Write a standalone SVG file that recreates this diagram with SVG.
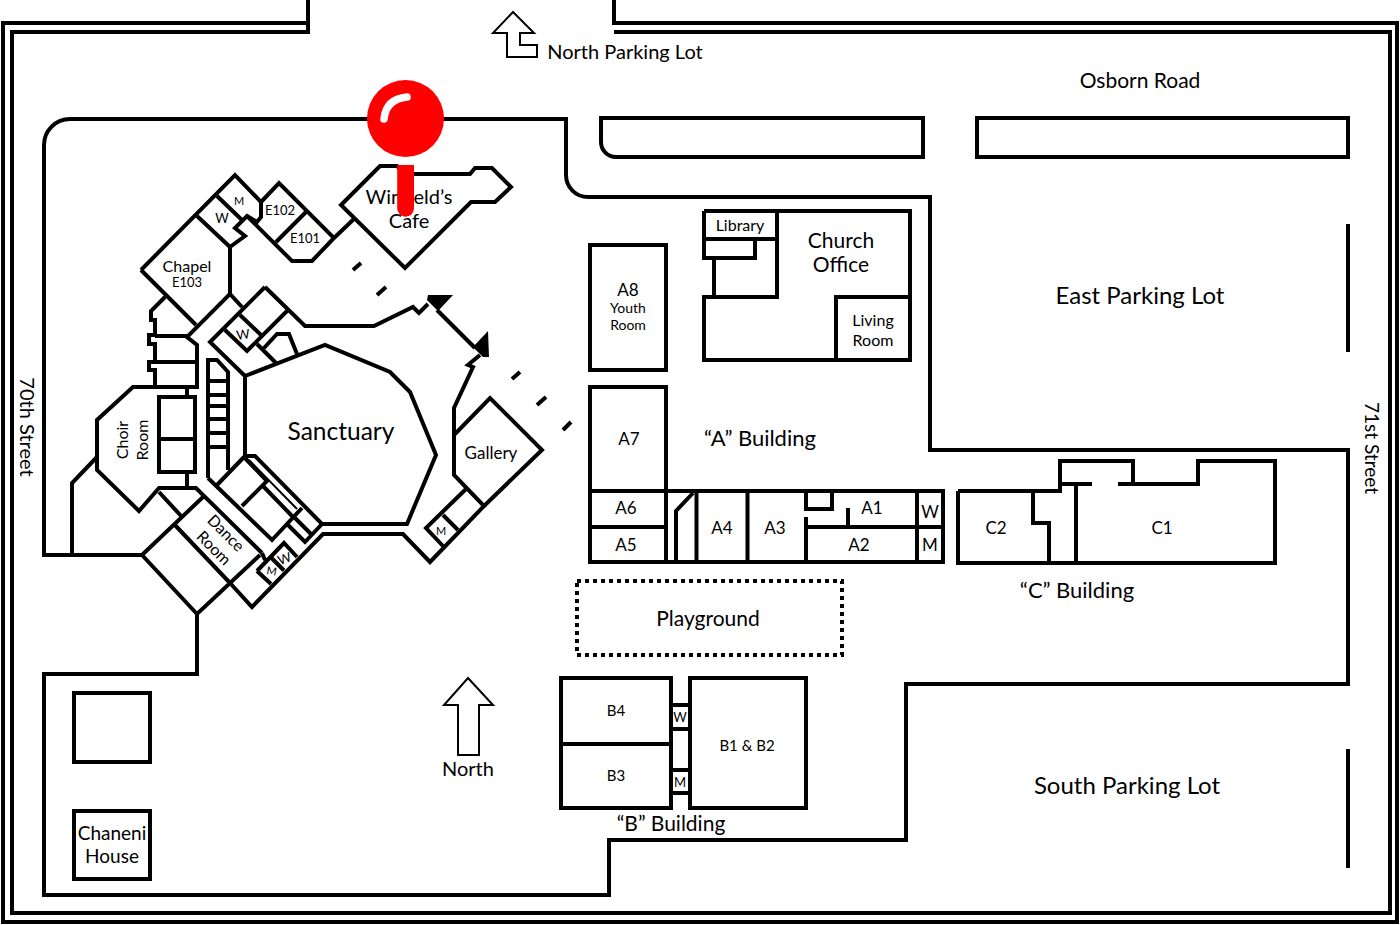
<svg xmlns="http://www.w3.org/2000/svg" width="1400" height="925" viewBox="0 0 1400 925">
<style>
.w{fill:none;stroke:#000;stroke-width:4;stroke-linejoin:miter;stroke-linecap:butt}
.t{stroke-width:2}
text{font-family:"Lato","Noto Sans","Liberation Sans",sans-serif;fill:#000;text-anchor:middle}
.s10{font-size:11px}.s12{font-size:13px}.s14{font-size:14px}.s15{font-size:15px}.s16{font-size:16px}.s17{font-size:17px}.s19{font-size:19px}.s20{font-size:20px}.s21{font-size:21px}.s22{font-size:22px}.s24{font-size:24px}.s25{font-size:24.500px}
</style>
<rect width="1400" height="925" fill="#fff"/>
<g id="frame" class="w">
<path d="M308 0V23H3V922H1397V23H614V0"/>
<path d="M308 0V32H12V913H1390V32H614"/>
</g>
<g id="site" class="w">
<path d="M142 555H44V145A26 26 0 0 1 70 119H566V175A22 22 0 0 0 588 197H930V450H1348V684H906V840H609V895H44V674H197V615"/>
<path d="M1348 224V352M1348 749V868"/>
<path d="M601 118H923V157H616A15 15 0 0 1 601 142Z"/>
<rect x="977" y="118" width="371" height="39"/>
<rect x="74" y="693" width="76" height="69"/>
<rect x="74" y="811" width="76" height="68"/>
<rect x="577" y="581" width="265" height="74" stroke-dasharray="4 4"/>
</g>
<g id="arrows" class="w t">
<path d="M513 12L534 33H520V45H537V57H507V33H493Z"/>
<path d="M468 678L493 705H479V755H458V705H444Z"/>
</g>
<g id="church-main" class="w">
<path d="M141 270L235 175L261 202V217L257 222L247 216L235 228L245 236L230 247V294L187 337L197 345V387H133L97 420V470L139 511L159 488H196L262 553"/>
<path d="M141 270L196 325M165 297L151 311V320H155V335H149V344H155V362H149V370H155V387M155 336H187M155 362H197"/>
<path d="M217 196L243 221M197 216L230 247"/>
<path d="M261 202L279 183L334 238L312 261H292L247 216M306 212L276 242M334 238L355 218"/>
<path d="M341 205L380 166H397L405 174H470L475 168H492L511 187L495 202H471L405 268Z"/>
<path d="M230 294L242 307M265 287L305 326H374L413 307L419 313L428 304M265 287L210 342L245 376M225 330L247 351L287 311M240 315L261 335M257 344L276 363M264 348L277 334H289L297 354"/>
<path d="M245 376L325 345L390 372L410 392L436 455L407 524H322L255 456H245V376"/>
<path d="M340 534H403L430 562L484 506L454 475V408L473 367L468 365L480 355"/>
<path d="M437 310L475 348"/>
<path d="M455 434L490 398L542 450L484 506M466 489L426 528L443 546M443 515L458 530"/>
<path d="M208 478V360H217L228 372V470M208 381H228M208 395H228M208 406H228M208 419H228M208 433H228M208 447H228"/>
<path d="M208 478L272 540L302 508M244 457L217 485M244 457L267 481L242 506M263 486L293 517M288 525L305 542L322 524M295 518L312 535"/>
<path d="M249 460L297 509" stroke-width="2"/>
<rect x="159" y="397" width="36" height="75"/>
<path d="M159 439H195M187 387V397M187 472V488"/>
<path d="M97 457L72 483V555M142 555L203 497M142 555L197 614L260 555M173 523L230 583M159 492L182 517M230 583L252 607L323 534H340"/>
<path d="M257 571L284 543L297 557M257 571L271 584M270.500 557L284 570.500M262 553L265 560"/>
</g>
<g id="dashes" class="w">
<path d="M353 270L361 263M377 295L386 287M512 379L520 372M537 405L546 397M563 430L571 422"/>
</g>
<path d="M428 295H453L438 311L427 300ZM488 331L489 357L483 357L473 347Z" fill="#000"/>
<g id="a-building" class="w">
<rect x="590" y="245" width="76" height="125"/>
<path d="M590 491V387H666V562M590 491H943V562H590V491M590 527H666M696.500 491V562M676 562V511L693 493M747.500 491V562M806 491V509H832V491M806 517V562M806 527H943M848 527V508M917 491V562"/>
</g>
<g id="church-office" class="w">
<path d="M704 211H910V360H704V297H777V211M704 211V258H755V239M704 239H777M714 258V297M836 360V297H910"/>
</g>
<g id="c-building" class="w">
<path d="M958 491V563H1275V461H1198V484H1118M1133 484V461H1060V491H958M1060 484H1092M1076 484V563M1033 491V523H1049V563"/>
</g>
<g id="b-building" class="w">
<rect x="561" y="678" width="110" height="130"/>
<rect x="690" y="678" width="116" height="130"/>
<path d="M561 744H671M671 705H690M671 729H690M671 770H690M671 793H690"/>
</g>
<g id="labels">
<text x="625" y="59" class="s20">North Parking Lot</text>
<text x="1140" y="88" class="s21">Osborn Road</text>
<text x="1140" y="304" class="s24">East Parking Lot</text>
<text x="1127" y="794" class="s24">South Parking Lot</text>
<text x="341" y="440" class="s25">Sanctuary</text>
<text x="409" y="204" class="s20">Winfield’s</text>
<text x="409" y="228" class="s20">Cafe</text>
<text x="187" y="272" class="s16">Chapel</text>
<text x="187" y="287" class="s12">E103</text>
<text x="280" y="215" class="s12">E102</text>
<text x="305" y="243" class="s12">E101</text>
<text x="239" y="205" class="s10">M</text>
<text x="222" y="223" class="s12">W</text>
<text x="243" y="339" class="s12" transform="rotate(-8 243 335)">W</text>
<text x="491" y="459" class="s17">Gallery</text>
<text x="441" y="535" class="s10">M</text>
<text x="628" y="296" class="s17">A8</text>
<text x="628" y="313" class="s14">Youth</text>
<text x="628" y="330" class="s14">Room</text>
<text x="629" y="445" class="s17">A7</text>
<text x="626" y="514" class="s17">A6</text>
<text x="626" y="551" class="s17">A5</text>
<text x="722" y="534" class="s17">A4</text>
<text x="775" y="534" class="s17">A3</text>
<text x="872" y="514" class="s17">A1</text>
<text x="859" y="551" class="s17">A2</text>
<text x="930" y="518" class="s17">W</text>
<text x="930" y="551" class="s17">M</text>
<text x="760" y="446" class="s22">“A” Building</text>
<text x="740" y="231" class="s16">Library</text>
<text x="841" y="248" class="s21">Church</text>
<text x="841" y="272" class="s21">Office</text>
<text x="873" y="326" class="s16">Living</text>
<text x="873" y="346" class="s16">Room</text>
<text x="996" y="534" class="s17">C2</text>
<text x="1162" y="534" class="s17">C1</text>
<text x="1077" y="598" class="s22">“C” Building</text>
<text x="708" y="626" class="s21">Playground</text>
<text x="616" y="716" class="s15">B4</text>
<text x="616" y="781" class="s15">B3</text>
<text x="747" y="751" class="s15">B1 &amp; B2</text>
<text x="680" y="722" class="s12">W</text>
<text x="680" y="787" class="s12">M</text>
<text x="671" y="831" class="s21">“B” Building</text>
<text x="468" y="776" class="s20">North</text>
<text x="112" y="840" class="s19">Chaneni</text>
<text x="112" y="863" class="s19">House</text>
<text class="s20" transform="translate(20 427) rotate(90)">70th Street</text>
<text class="s19" transform="translate(1365 448) rotate(90)">71st Street</text>
<text class="s16" transform="translate(128 440) rotate(-90)">Choir</text>
<text class="s16" transform="translate(148 440) rotate(-90)">Room</text>
<text class="s16" transform="translate(222 537) rotate(45)">Dance</text>
<text class="s16" transform="translate(210 552) rotate(45)">Room</text>
<text class="s10" transform="translate(271 575) rotate(10)">M</text>
<text class="s12" transform="translate(286 563) rotate(-20)">W</text>
</g>
<g id="pin">
<circle cx="405.500" cy="118.500" r="38.500" fill="#f00"/>
<path d="M397.200 165H414V208.300A8.400 8.400 0 0 1 397.200 208.300Z" fill="#f00"/>
<path d="M384 119Q386 99 407 97" fill="none" stroke="#fff" stroke-width="7.500" stroke-linecap="round"/>
</g>
</svg>
